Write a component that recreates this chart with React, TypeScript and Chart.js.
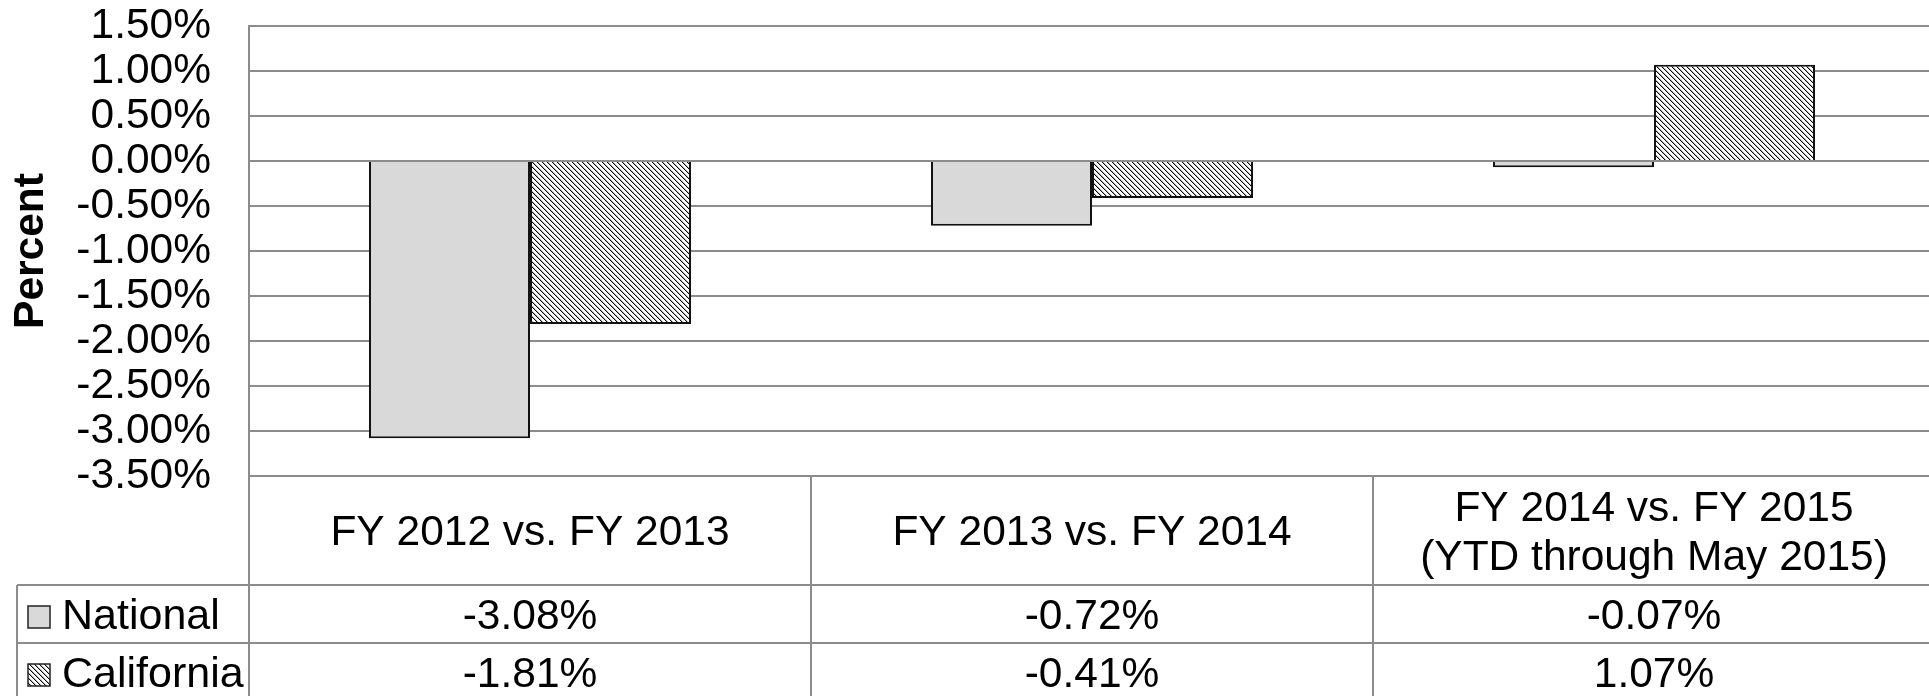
import React, { useEffect, useRef } from 'react';
import { Chart, registerables } from 'chart.js';

Chart.register(...registerables);

const categoryLines: string[][] = [
  ['FY 2012 vs. FY 2013'],
  ['FY 2013 vs. FY 2014'],
  ['FY 2014 vs. FY 2015', '(YTD through May 2015)'],
];
const seriesNames = ['National', 'California'];
const nationalValues = [-3.08, -0.72, -0.07];
const californiaValues = [-1.81, -0.41, 1.07];
const yMin = -3.5;
const yMax = 1.5;
const yStep = 0.5;
const yTitle = 'Percent';

const FONT = "'Liberation Sans', Arial, sans-serif";
const FONT_SIZE = 42.5;
const LINE = '#8c8c8c';
const NATIONAL_FILL = '#d9d9d9';

const fmt = (v: number) => v.toFixed(2) + '%';

function makeHatch(): CanvasPattern | string {
  const c = document.createElement('canvas');
  const s = 5;
  c.width = s;
  c.height = s;
  const g = c.getContext('2d');
  if (!g) return '#888';
  g.fillStyle = '#ffffff';
  g.fillRect(0, 0, s, s);
  g.fillStyle = '#000000';
  for (let i = 0; i < s; i++) {
    g.fillRect(i, i, 1, 1);
  }
  g.fillStyle = 'rgba(0,0,0,0.3)';
  for (let i = 0; i < s; i++) {
    g.fillRect((i + 1) % s, i, 1, 1);
  }
  const p = g.createPattern(c, 'repeat');
  return p || '#888';
}

export default function App() {
  const ref = useRef<HTMLCanvasElement | null>(null);

  useEffect(() => {
    const canvas = ref.current;
    if (!canvas) return;
    document.body.style.margin = '0';
    const hatch = makeHatch();

    const rowTops = [476, 585, 643];
    const legendLeft = 17;

    const tablePlugin = {
      id: 'dataTable',
      afterDraw(chart: any) {
        const ctx: CanvasRenderingContext2D = chart.ctx;
        const area = chart.chartArea;
        const xs = chart.scales.x;
        const n = categoryLines.length;
        const step = n > 1 ? xs.getPixelForValue(1) - xs.getPixelForValue(0) : area.right - area.left;
        const H = chart.height;
        ctx.save();
        ctx.strokeStyle = LINE;
        ctx.lineWidth = 2;
        ctx.beginPath();
        ctx.moveTo(area.left, rowTops[0]);
        ctx.lineTo(area.right, rowTops[0]);
        ctx.moveTo(legendLeft, rowTops[1]);
        ctx.lineTo(area.right, rowTops[1]);
        ctx.moveTo(legendLeft, rowTops[2]);
        ctx.lineTo(area.right, rowTops[2]);
        ctx.moveTo(area.left, area.top);
        ctx.lineTo(area.left, H);
        for (let i = 0; i < n; i++) {
          const xr = xs.getPixelForValue(i) + step / 2;
          ctx.moveTo(xr, rowTops[0]);
          ctx.lineTo(xr, H);
        }
        ctx.moveTo(legendLeft, rowTops[1]);
        ctx.lineTo(legendLeft, H);
        ctx.stroke();

        ctx.fillStyle = '#000';
        ctx.font = `${FONT_SIZE}px ${FONT}`;
        ctx.textAlign = 'center';
        ctx.textBaseline = 'middle';
        const headerMid = (rowTops[0] + rowTops[1]) / 2 + 3;
        const lh = 49;
        for (let i = 0; i < n; i++) {
          const cx = xs.getPixelForValue(i);
          const lines = categoryLines[i];
          const y0 = headerMid - ((lines.length - 1) * lh) / 2;
          lines.forEach((t, j) => ctx.fillText(t, cx, y0 + j * lh));
          ctx.fillText(fmt(nationalValues[i]), cx, 617);
          ctx.fillText(fmt(californiaValues[i]), cx, 675);
        }
        ctx.textAlign = 'left';
        ctx.font = `43px ${FONT}`;
        ctx.fillText(seriesNames[0], 62, 617);
        ctx.fillText(seriesNames[1], 62, 675);
        ctx.lineWidth = 1.5;
        ctx.strokeStyle = '#222';
        ctx.fillStyle = NATIONAL_FILL;
        ctx.fillRect(28, 606, 22, 22);
        ctx.strokeRect(28, 606, 22, 22);
        ctx.fillStyle = hatch as any;
        ctx.fillRect(28, 664, 22, 22);
        ctx.strokeRect(28, 664, 22, 22);
        ctx.restore();
      },
    };

    const chart = new Chart(canvas, {
      type: 'bar',
      data: {
        labels: categoryLines.map((l) => l.join(' ')),
        datasets: [
          {
            label: seriesNames[0],
            data: nationalValues,
            backgroundColor: NATIONAL_FILL,
            borderColor: '#111',
            borderWidth: 2,
            categoryPercentage: 0.573,
            barPercentage: 1,
          },
          {
            label: seriesNames[1],
            data: californiaValues,
            backgroundColor: hatch as any,
            borderColor: '#111',
            borderWidth: 2,
            categoryPercentage: 0.573,
            barPercentage: 1,
          },
        ],
      },
      options: {
        animation: false,
        responsive: false,
        devicePixelRatio: 1,
        layout: { padding: { top: 26, bottom: 696 - 476, left: 0, right: 2 } },
        plugins: {
          legend: { display: false },
          tooltip: { enabled: false },
        },
        scales: {
          x: {
            display: false,
          },
          y: {
            min: yMin,
            max: yMax,
            afterFit: (s: any) => {
              s.width = 249;
              s.paddingTop = 0;
              s.paddingBottom = 0;
            },
            ticks: {
              stepSize: yStep,
              autoSkip: false,
              color: '#000',
              padding: 38,
              font: { family: FONT, size: FONT_SIZE },
              callback: (v: any) => fmt(Number(v)),
            },
            grid: { color: LINE, lineWidth: 2, drawTicks: false },
            border: { display: true, color: LINE, width: 2 },
            title: {
              display: true,
              text: yTitle,
              color: '#000',
              font: { family: FONT, size: FONT_SIZE, weight: 'bold' },
              padding: { top: 6, bottom: 0 },
            },
          },
        },
      },
      plugins: [tablePlugin],
    });
    return () => chart.destroy();
  }, []);

  return (
    <div style={{ position: 'fixed', left: 0, top: 0, width: 1929, height: 696, overflow: 'hidden', background: '#fff' }}>
      <canvas ref={ref} width={1937} height={696} style={{ display: 'block', width: 1937, height: 696 }} />
    </div>
  );
}
